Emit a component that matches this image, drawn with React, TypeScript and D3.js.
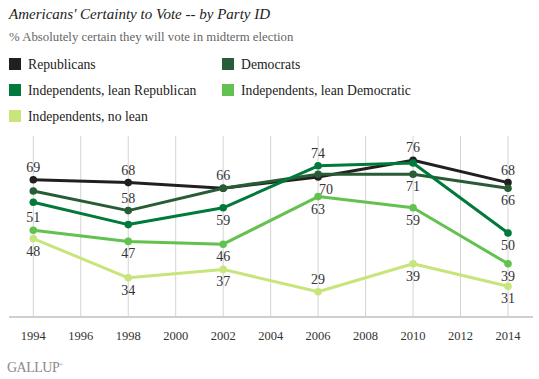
import React from "react";
import * as d3 from "d3";

const years = [1994, 1998, 2002, 2006, 2010, 2014];
const gridYears = [1994, 1996, 1998, 2000, 2002, 2004, 2006, 2008, 2010, 2012, 2014];
const seriesNames = [
  "Republicans",
  "Democrats",
  "Independents, lean Republican",
  "Independents, lean Democratic",
  "Independents, no lean",
];
const republicans = [69, 68, 66, 70, 76, 68];
const democrats = [65, 58, 66, 71, 71, 66];
const leanRepublican = [61, 53, 59, 74, 75, 50];
const leanDemocratic = [51, 47, 46, 63, 59, 39];
const noLean = [48, 34, 37, 29, 39, 31];

const colors = ["#231f20", "#285c36", "#007a3a", "#63c14f", "#c7e57b"];
// label placement per point: "a" above, "b" below, "" none, "r" below-right
const placements = [
  ["a", "a", "a", "r", "a", "a"],
  ["", "a", "", "", "b", "b"],
  ["", "", "b", "a", "", "b"],
  ["a", "b", "b", "b", "b", "b"],
  ["b", "b", "b", "a", "b", "b"],
];

const W = 539;
const H = 379;
const FONT = "'Liberation Serif', 'DejaVu Serif', serif";

export default function App() {
  const values = [republicans, democrats, leanRepublican, leanDemocratic, noLean];
  const x = d3.scaleLinear().domain([1994, 2014]).range([33.3, 508]);
  const y = d3.scaleLinear().domain([20, 85]).range([317, 135]);
  const line = d3
    .line<number>()
    .x((_, i) => x(years[i]))
    .y((d) => y(d));

  const legendPos = [
    [9, 64],
    [222, 64],
    [9, 90],
    [222, 90],
    [9, 116],
  ];

  return (
    <svg
      width={W}
      height={H}
      style={{ position: "absolute", left: 0, top: 0, background: "#fff" }}
      fontFamily={FONT}
    >
      <text x={9} y={19} fontSize={15} fontStyle="italic" fill="#222">
        Americans' Certainty to Vote -- by Party ID
      </text>
      <text x={9} y={41} fontSize={12.8} fill="#666">
        % Absolutely certain they will vote in midterm election
      </text>
      {seriesNames.map((n, i) => (
        <g key={n}>
          <rect x={legendPos[i][0]} y={legendPos[i][1] - 6} width={12} height={12} fill={colors[i]} />
          <text x={legendPos[i][0] + 19} y={legendPos[i][1] + 4.5} fontSize={13.7} fill="#222">
            {n}
          </text>
        </g>
      ))}
      {gridYears.map((yr) => (
        <line key={yr} x1={x(yr)} x2={x(yr)} y1={136} y2={317} stroke="#d4d4d4" strokeWidth={1} />
      ))}
      <line x1={9} x2={533} y1={317} y2={317} stroke="#cfcfcf" strokeWidth={2} />
      {gridYears.map((yr) => (
        <text key={"t" + yr} x={x(yr)} y={340} fontSize={12.5} textAnchor="middle" fill="#333">
          {yr}
        </text>
      ))}
      {values.map((vals, si) => (
        <g key={"s" + si}>
          <path d={line(vals) || ""} fill="none" stroke={colors[si]} strokeWidth={3} strokeLinejoin="round" />
          {vals.map((v, i) => (
            <circle key={i} cx={x(years[i])} cy={y(v)} r={3.8} fill={colors[si]} />
          ))}
        </g>
      ))}
      {values.map((vals, si) =>
        vals.map((v, i) => {
          const p = placements[si][i];
          if (!p) return null;
          const cx = x(years[i]);
          const cy = y(v);
          const dx = p === "r" ? 8 : 0;
          const ly = p === "a" ? cy - 8 : cy + 17;
          return (
            <text key={"l" + si + "-" + i} x={cx + dx} y={ly} fontSize={14} textAnchor="middle" fill="#333">
              {v}
            </text>
          );
        })
      )}
      <text x={7} y={372} fontSize={14} fill="#8a8a8a" letterSpacing={-0.5}>
        GALLUP
        <tspan fontSize={5} dy={-6}>®</tspan>
      </text>
    </svg>
  );
}
